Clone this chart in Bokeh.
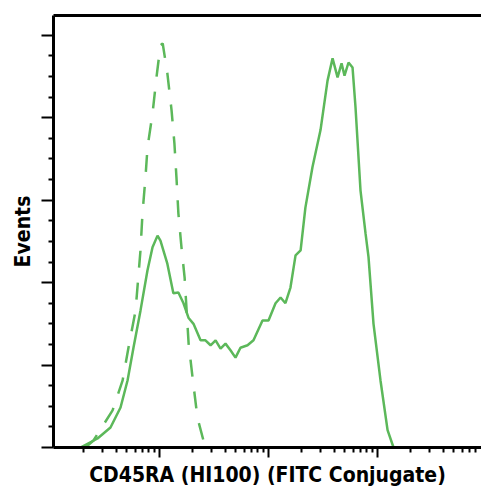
from bokeh.plotting import figure
from bokeh.models import FixedTicker, LinearAxis, Range1d
from bokeh.embed import file_html
from bokeh.resources import INLINE

# Stained sample (solid) - fluorescence intensity vs events
solid_x = [1.16, 1.88, 2.70, 3.55, 4.39, 5.09, 5.77, 6.69, 7.76, 8.63, 9.59, 10.2, 11.8,
           13.4, 14.9, 16.6, 18.5, 20.5, 23.8, 26.4, 29.4, 32.7, 36.3, 40.3, 44.8, 49.8,
           55.3, 64.2, 72.8, 88.1, 100, 116, 129, 143, 159, 177, 197, 218, 253, 300,
           348, 387, 430, 468, 498, 542, 590, 628, 698, 776, 827, 919, 1066, 1237,
           1403, 9000]
solid_y = [0, 0, 10.9, 24.3, 48.5, 81.3, 121, 166, 215, 243, 257, 251, 223,
           187, 188, 175, 157, 150, 130, 130, 124, 130, 120, 126, 118, 109,
           121, 124, 130, 154, 154, 175, 182, 175, 194, 233, 239, 291, 340, 385,
           445, 472, 449, 466, 451, 467, 461, 413, 312, 260, 231, 150, 81, 21,
           0, 0]

# Isotype control (dashed)
iso_x = [2.09, 2.48, 3.71, 4.58, 5.19, 6.03, 6.69, 6.98, 7.44, 7.76, 8.63, 9.38, 10.2,
         10.7, 11.8, 12.9, 13.7, 14.3, 14.9, 15.9, 17.0, 18.5, 20.1, 22.3, 25.3, 28.2,
         1630]
iso_y = [0, 8.5, 45, 81, 121, 166, 239, 284, 328, 364, 405, 449, 488,
         490, 454, 409, 369, 328, 284, 243, 206, 126, 85, 36, 8.5, 0,
         0]

y_major = [0, 100, 200, 300, 400, 500]
y_minor = [25, 50, 75, 125, 150, 175, 225, 250, 275, 325, 350, 375, 425, 450, 475, 525]
x_major = [1, 10, 100, 1000, 10000]
x_minor = [m * d for d in [1, 10, 100, 1000] for m in range(2, 10)]

x_label = "CD45RA (HI100) (FITC Conjugate)"
y_label = "Events"

GREEN = "#5cb85a"
FONT = "'Liberation Sans Narrow', 'DejaVu Sans Condensed', Roboto, sans-serif"

p = figure(width=481, height=492, x_axis_type="log", output_backend="svg",
           toolbar_location=None,
           x_range=Range1d(10 ** 0.0275, 10 ** 3.954),
           y_range=Range1d(0, 524),
           min_border_left=53, min_border_right=0, min_border_top=15,
           min_border_bottom=45)

p.line(solid_x, solid_y, line_color=GREEN, line_width=2.5)
p.line(iso_x, iso_y, line_color=GREEN, line_width=2.5, line_dash="17 15")

p.grid.visible = False
p.outline_line_color = None
p.background_fill_color = "white"
p.border_fill_color = "white"


def style_axis(ax, tick_out, label, standoff):
    ax.major_label_text_font_size = "1px"
    ax.major_label_text_color = None
    ax.major_label_standoff = 0
    ax.axis_line_width = 3
    ax.major_tick_line_width = 2
    ax.minor_tick_line_width = 2
    ax.major_tick_out = tick_out
    ax.major_tick_in = 0
    ax.minor_tick_out = 5
    ax.minor_tick_in = 0
    ax.axis_label = label
    ax.axis_label_text_font = FONT
    ax.axis_label_text_font_style = "bold"
    ax.axis_label_text_font_size = "21px"
    ax.axis_label_text_color = "black"
    ax.axis_label_standoff = standoff


xa = p.xaxis[0]
xa.ticker = FixedTicker(ticks=x_major, minor_ticks=x_minor)
style_axis(xa, 10, x_label, 5)

ya = p.yaxis[0]
ya.ticker = FixedTicker(ticks=y_major, minor_ticks=y_minor)
style_axis(ya, 12, y_label, 7)

top = LinearAxis(ticker=FixedTicker(ticks=[1], minor_ticks=[]),
                 major_label_text_font_size="1px", major_label_text_color=None,
                 major_tick_out=0, minor_tick_out=0, major_tick_in=0, minor_tick_in=0,
                 major_tick_line_color=None, minor_tick_line_color=None,
                 major_label_standoff=0, axis_line_width=3)
p.add_layout(top, "above")

open("out.html", "w").write(file_html(p, INLINE))
